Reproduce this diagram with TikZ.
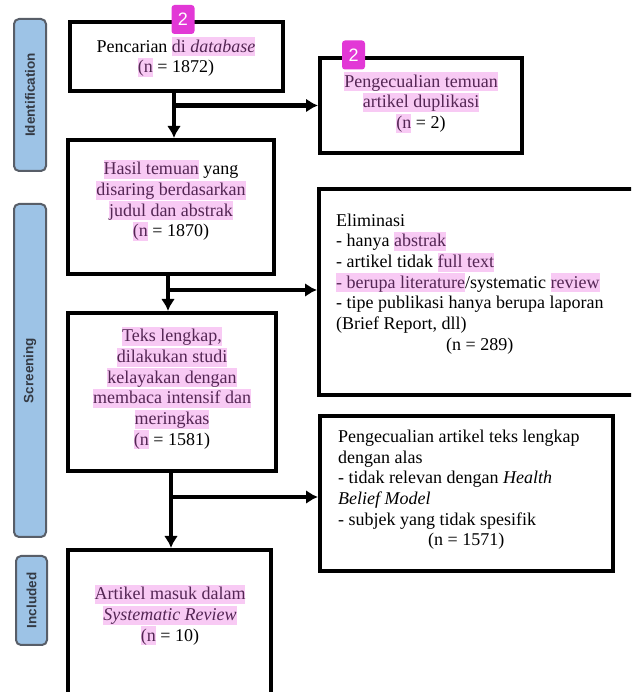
\documentclass[tikz,border=0pt]{standalone}
\usepackage{fontspec}
\setmainfont{Liberation Serif}
\setsansfont{Liberation Sans}
\usepackage{xcolor}
\usetikzlibrary{arrows.meta}
\definecolor{stagefill}{RGB}{157,195,230}
\definecolor{stageline}{RGB}{88,94,104}
\definecolor{stagetext}{RGB}{52,58,68}
\definecolor{marker}{RGB}{248,202,244}
\definecolor{markertext}{RGB}{84,38,84}
\definecolor{tagcol}{RGB}{226,56,214}
\newcommand{\mk}[1]{{\setlength{\fboxsep}{0pt}\colorbox{marker}{\rule[-4pt]{0pt}{19pt}\textcolor{markertext}{#1}}}}
\tikzstyle{box}=[draw, rectangle, line width=4pt, inner sep=0pt]
\tikzstyle{boxtext}=[anchor=north, align=center, inner sep=0pt, font=\fontsize{18}{20.7}\selectfont]
\tikzstyle{listtext}=[anchor=north west, align=left, inner sep=0pt, font=\fontsize{18}{20.7}\selectfont]
\tikzstyle{stagebar}=[draw=stageline, fill=stagefill, line width=2pt, rounded corners=5pt, rotate=90, text=stagetext, font=\sffamily\bfseries\fontsize{13.5}{14}\selectfont]
\tikzstyle{tagbox}=[fill=tagcol, rounded corners=3pt, minimum width=23pt, minimum height=29pt, inner sep=0pt, text=white, font=\sffamily\fontsize{18}{18}\selectfont]
\tikzset{flow/.style={-{Latex[length=12pt,width=14pt]}, line width=4.5pt}}

\begin{document}
\begin{tikzpicture}[x=1pt,y=1pt]
  \useasboundingbox (0,0) rectangle (631,692);
  \clip (0,0) rectangle (631,692);
  %% Stages
  \draw (30,597) node[stagebar, minimum width=152pt, minimum height=32pt] (ident) {Identification};
  \draw (30,321.5) node[stagebar, minimum width=333pt, minimum height=32pt] (screening) {Screening};
  \draw (31.5,91.5) node[stagebar, minimum width=89pt, minimum height=31pt] (included) {Included};

  %% Main column
  \draw (176.5,635.5) node[box, minimum width=213pt, minimum height=69pt] (search) {};
  \draw (176,655) node[boxtext] (searchtxt) {Pencarian \mk{di \textit{database}}\\\mk{(n} = 1872)};

  \draw (171,485) node[box, minimum width=206pt, minimum height=134pt] (screen) {};
  \draw (171,532.3) node[boxtext] (screentxt) {\mk{Hasil temuan} yang\\\mk{disaring berdasarkan}\\\mk{judul dan abstrak}\\\mk{(n} = 1870)};

  \draw (172,300) node[box, minimum width=208pt, minimum height=158pt] (fulltext) {};
  \draw (172,365.3) node[boxtext] (fulltexttxt) {\mk{Teks lengkap,}\\\mk{dilakukan studi}\\\mk{kelayakan dengan}\\\mk{membaca intensif dan}\\\mk{meringkas}\\\mk{(n} = 1581)};

  \draw (169.5,42) node[box, minimum width=203pt, minimum height=200pt] (final) {};
  \draw (170,107.3) node[boxtext] (finaltxt) {\mk{Artikel masuk dalam}\\\mk{\textit{Systematic Review}}\\\mk{(n} = 10)};

  %% Exclusions
  \draw (421,586.5) node[box, minimum width=202pt, minimum height=95pt] (dup) {};
  \draw (421,620) node[boxtext] (duptxt) {\mk{Pengecualian temuan}\\\mk{artikel duplikasi}\\\mk{(n} = 2)};

  \draw (489.5,400) node[box, minimum width=341pt, minimum height=206pt] (elim) {};
  \draw (336,478.5) node[listtext] (elimtxt) {Eliminasi\\- hanya \mk{abstrak}\\- artikel tidak \mk{full text}\\\mk{- berupa literature}/systematic \mk{review}\\- tipe publikasi hanya berupa laporan\\(Brief Report, dll)\\\hspace*{110pt}(n = 289)};

  \draw (466.5,198.5) node[box, minimum width=293pt, minimum height=155pt] (excl) {};
  \draw (338,262.3) node[listtext] (excltxt) {Pengecualian artikel teks lengkap\\dengan alas\\- tidak relevan dengan \textit{Health}\\\textit{Belief Model}\\- subjek yang tidak spesifik\\\hspace*{90pt}(n = 1571)};

  %% Arrows
  \draw[flow] ([xshift=-2.5pt]search.south) -- ([xshift=-2.5pt]search.south |- screen.north);
  \draw[flow] ([xshift=-2.5pt]search.south |- dup.west) -- (dup.west);
  \draw[flow] ([xshift=-3pt]screen.south) -- ([xshift=-3pt]screen.south |- fulltext.north);
  \draw[flow] ([xshift=-3pt,yshift=2pt]screen.south |- elim.west) -- ([yshift=2pt]elim.west);
  \draw[flow] ([xshift=-1pt]fulltext.south) -- ([xshift=-1pt]fulltext.south |- final.north);
  \draw[flow] ([xshift=-1pt,yshift=-3.5pt]fulltext.south |- excl.west) -- ([yshift=-3.5pt]excl.west);

  %% Markers
  \draw (183,672.5) node[tagbox] (tag1) {2};
  \draw (353.5,637) node[tagbox] (tag2) {2};
\end{tikzpicture}
\end{document}
